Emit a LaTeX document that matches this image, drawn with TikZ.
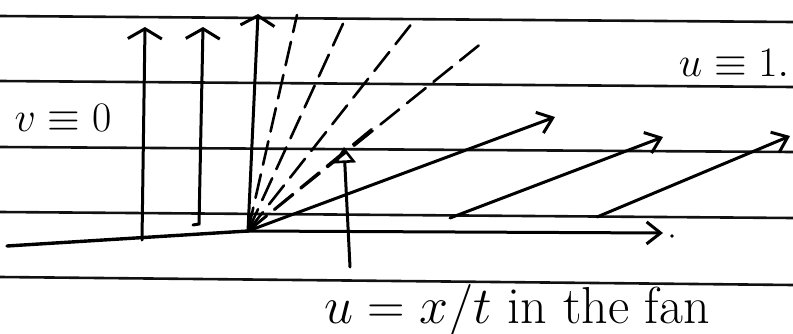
\RequirePackage{fix-cm}
\documentclass[tikz,border=0pt]{standalone}
\usepackage{amsmath}
\usepackage{xcolor}
\usetikzlibrary{arrows.meta}
\definecolor{ink}{HTML}{000000}
\definecolor{ruleink}{HTML}{111111}
\definecolor{paper}{HTML}{FFFFFF}
\tikzset{
  ruleline/.style={line width=2.6pt, color=ruleink},
  pen/.style={line width=3pt, color=ink, line cap=round},
  fanray/.style={line width=2.6pt, color=ink, line cap=round, dash pattern=on 24pt off 10pt},
  upbarb/.style={-{Straight Barb[length=10pt, width=34pt, line width=3pt]}},
  sidebarb/.style={-{Straight Barb[length=14pt, width=22pt, line width=3pt]}},
  openhead/.style={-{Triangle[open, length=16pt, width=22pt, line width=2.6pt]}},
  hand/.style={font=\fontsize{42}{46}\selectfont, text=ink, inner sep=0pt},
  handbig/.style={font=\fontsize{52}{56}\selectfont, text=ink, inner sep=0pt}
}

\begin{document}
\begin{tikzpicture}[x=1pt,y=1pt]
\useasboundingbox (0,0) rectangle (793,333);
\fill[paper] (0,0) rectangle (793,333);

% ruled paper
\foreach \yl/\yr in {317/311, 252/246, 186/181, 121/115, 56/48}
  \draw[ruleline] (0,\yl) -- (793,\yr);

% fan origin and ends
\coordinate (O) at (248,102);
\coordinate (axisstart) at (7,87);
\coordinate (axisend) at (663,100);
\coordinate (raya) at (297,318);
\coordinate (rayb) at (347,318);
\coordinate (rayc) at (413,311);
\coordinate (rayd) at (483,291);
\coordinate (raye) at (378,209);
\coordinate (edgetip) at (555,216);

% x axis
\draw[pen, line width=3.4pt] (axisstart) -- (O);
\draw[pen, sidebarb] (O) -- (axisend);
\fill[ink] (672,97) circle (1.8pt);

% characteristics u = 0
\draw[pen, upbarb] (142,93) -- (145,306);
\draw[pen, upbarb] (193,108) -- (199,109) -- (203,306);
\draw[pen, upbarb] (O) -- (258,319);

% the fan
\foreach \r in {raya, rayb, rayc, rayd, raye}
  \draw[fanray] (O) -- (\r);
\draw[pen, sidebarb] (O) -- (edgetip);

% characteristics u = 1
\draw[pen, sidebarb] (450,115) -- (663,196);
\draw[pen, sidebarb] (597,116) -- (790,197);

% labels
\node[hand] (vzero) at (63,215) {$v\equiv 0$};
\node[hand] (uone) at (734,270) {$u\equiv 1.$};
\node[handbig, anchor=base] (fanlabel) at (517,10) {$u=x/t$\ in the fan};

\coordinate (pointfoot) at (350,66);
\coordinate (pointtip) at (344,186);
\draw[pen, openhead] (pointfoot) -- (pointtip);

\end{tikzpicture}
\end{document}
